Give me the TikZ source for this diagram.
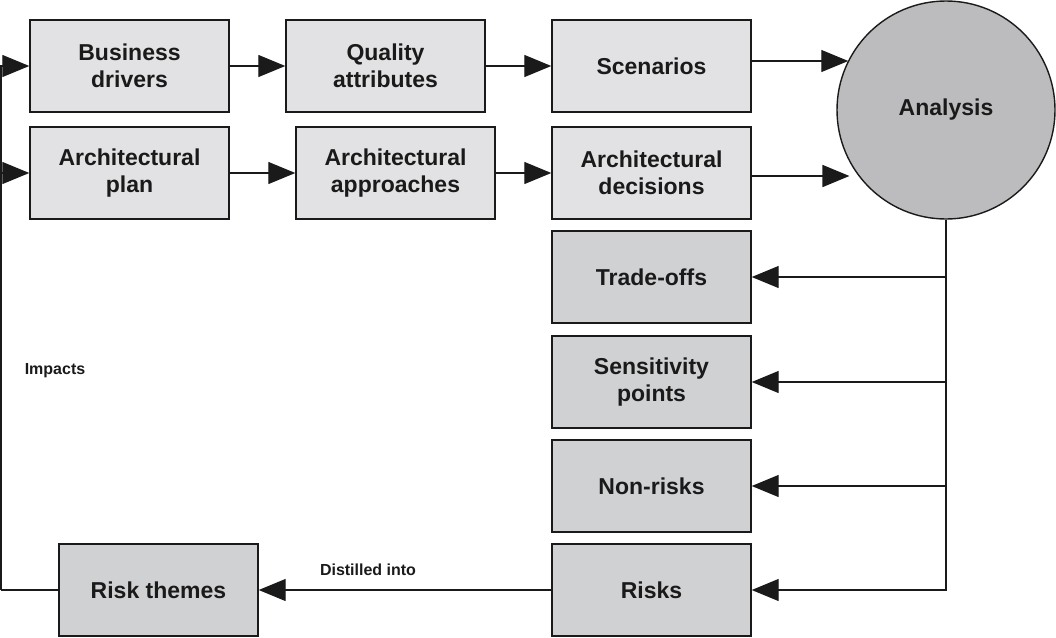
\documentclass[tikz,border=0pt]{standalone}
\usepackage{fontspec}
\setmainfont{Liberation Sans}
\usetikzlibrary{arrows.meta}
\definecolor{lightfill}{RGB}{226,226,228}
\definecolor{darkfill}{RGB}{208,209,211}
\definecolor{circfill}{RGB}{188,188,190}
\definecolor{ink}{RGB}{26,26,26}
\tikzset{
    box/.style={draw=ink, line width=1.4pt, fill=lightfill, minimum width=199pt, minimum height=92pt,
        inner sep=0pt, align=center, text=ink, font=\fontsize{23}{27}\selectfont\bfseries},
    darkbox/.style={box, fill=darkfill},
    link/.style={draw=ink, line width=1.3pt},
    arr/.style={link, -{Triangle[length=27pt,width=22pt]}},
    lbl/.style={text=ink, font=\fontsize{16}{18}\selectfont\bfseries, inner sep=0pt}
}
\begin{document}
\begin{tikzpicture}[x=1pt, y=-1pt]
        \useasboundingbox (0,0) rectangle (1056,637);

        % Ligne du haut
        \node[box] (drivers) at (129.5,66) {Business\\drivers};
        \node[box] (quality) at (385.5,66) {Quality\\attributes};
        \node[box] (scen) at (651.5,66) {Scenarios};

        % Ligne du milieu
        \node[box] (plan) at (129.5,173) {Architectural\\plan};
        \node[box] (approach) at (395.5,173) {Architectural\\approaches};
        \node[box] (decis) at (651.5,173) {Architectural\\decisions};

        % Analyse
        \node[circle, draw=ink, line width=1.4pt, fill=circfill, minimum size=218pt, inner sep=0pt,
            text=ink, font=\fontsize{23}{27}\selectfont\bfseries] (ana) at (946,110) {Analysis};

        % Sorties
        \node[darkbox] (trade) at (651.5,277) {Trade-offs};
        \node[darkbox] (sens) at (651.5,382) {Sensitivity\\points};
        \node[darkbox] (nonrisk) at (651.5,486) {Non-risks};
        \node[darkbox] (risks) at (651.5,590) {Risks};
        \node[darkbox] (themes) at (158.5,590) {Risk themes};

        % Fleches vers la droite
        \draw[arr] (drivers) -- (quality);
        \draw[arr] (quality) -- (scen);
        \draw[arr] (plan) -- (approach);
        \draw[arr] (approach) -- (decis);
        \coordinate (s1) at ([yshift=5pt]scen.east);
        \coordinate (s2) at ([yshift=-3pt]decis.east);
        \draw[arr] (s1) -- (s1 -| ana.153);
        \draw[arr, line width=1.7pt, shorten >=9pt] (s2) -- (s2 -| ana.217);

        % Branches de l'analyse
        \draw[arr] (ana.south) |- (trade.east);
        \draw[arr] (ana.south) |- (sens.east);
        \draw[arr] (ana.south) |- (nonrisk.east);
        \draw[arr] (ana.south) |- (risks.east);

        % Retour
        \draw[arr] (risks) -- (themes);
        \node[lbl] (distil) at (368,570) {Distilled into};
        \draw[link] (themes.west) -- (1,590) coordinate (back);
        \draw[arr] (back) |- (drivers.west);
        \draw[arr] (back) |- (plan.west);
        \node[lbl] (impact) at (55,371) {Impacts};
    \end{tikzpicture}
\end{document}
